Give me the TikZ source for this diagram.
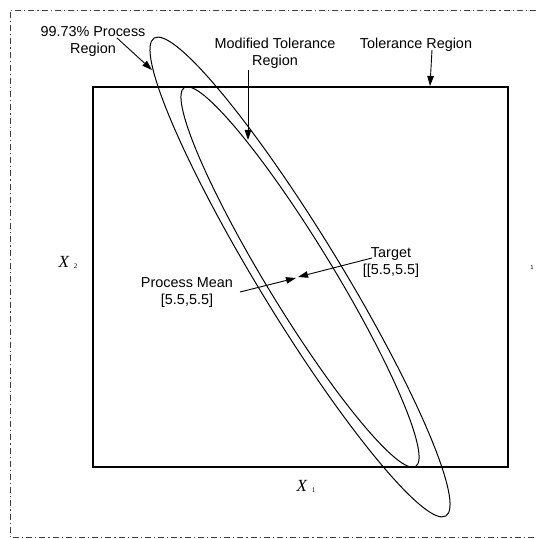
\documentclass[tikz,border=0pt]{standalone}
\usepackage{fontspec}
\setmainfont{Liberation Sans}
\newfontfamily\xfont{Liberation Serif}
\usetikzlibrary{arrows.meta}

\begin{document}
\begin{tikzpicture}[x=1pt, y=1pt,
  >={Triangle[length=10pt, width=6.5pt]},
  lbl/.style={font=\fontsize{14.4}{17}\selectfont, align=center, inner sep=0pt},
  axlbl/.style={font=\fontsize{17}{17}\selectfont, inner sep=0pt},
  arr/.style={->, line width=0.9pt},
  region/.style={line width=1pt},
]
\useasboundingbox (0,0) rectangle (536,539);

% Frame (dash dot)
\draw[black!75, line width=0.9pt, dash pattern=on 6pt off 3pt on 1.2pt off 3pt]
  (536,529) -- (10,529) -- (10,2) -- (536,2);

% Tolerance region
\draw[line width=2.6pt] (93,72) rectangle (508,452);

% Ellipses
\coordinate (mean) at (300,262);
\draw[region, rotate around={121.4:(mean)}] (mean) ellipse [x radius=280pt, y radius=41pt];
\draw[region, rotate around={121.4:(mean)}] (mean) ellipse [x radius=222pt, y radius=33pt];

% Labels
\node[lbl] (proc) at (93,498) {99.73\% Process\\Region};
\node[lbl] (mod) at (275,486) {Modified Tolerance\\Region};
\node[lbl] (tol) at (416,494) {Tolerance Region};
\node[lbl] (tgt) at (391,276) {Target\\{}[[5.5,5.5]};
\node[lbl] (pm) at (187,246) {Process Mean\\{}[5.5,5.5]};

\node[axlbl] (x2) at (68,277) {\xfont\itshape X\hspace{5pt}\raisebox{-1pt}{\upshape\fontsize{7}{7}\selectfont 2}};
\node[axlbl] (x1) at (306,53) {\xfont\itshape X\hspace{5pt}\raisebox{-1pt}{\upshape\fontsize{7}{7}\selectfont 1}};
\node[font=\fontsize{6}{6}\selectfont, inner sep=0pt] (one) at (532,272) {1};

% Arrows
\coordinate (procA) at (117,501);
\coordinate (procB) at (152,469);
\coordinate (modA) at (248,469);
\coordinate (modB) at (248,399);
\coordinate (tolA) at (432,489);
\coordinate (tolB) at (430,453);
\coordinate (tgtA) at (372,281);
\coordinate (tgtB) at (298,262);
\coordinate (pmA) at (240,247);
\coordinate (pmB) at (296,261);

\draw[arr] (procA) -- (procB);
\draw[arr] (modA) -- (modB);
\draw[arr] (tolA) -- (tolB);
\draw[arr] (tgtA) -- (tgtB);
\draw[arr] (pmA) -- (pmB);

\end{tikzpicture}
\end{document}
